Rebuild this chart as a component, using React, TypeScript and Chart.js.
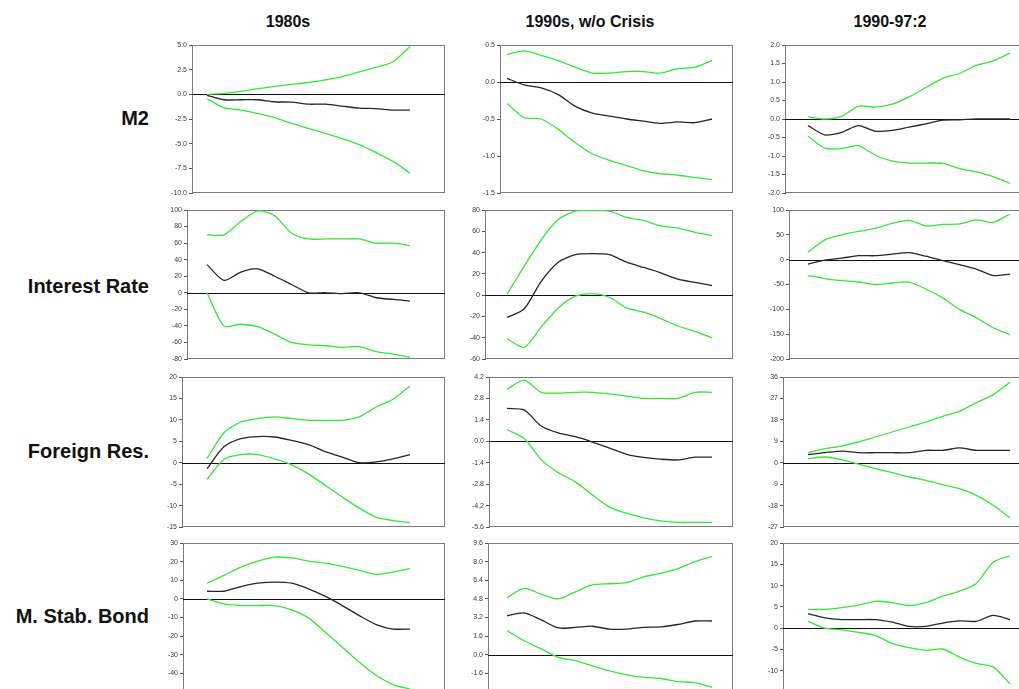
import React, { useEffect, useRef } from "react";
import { Chart, registerables } from "chart.js";
Chart.register(...registerables);

// ---------- labels ----------
const columnTitles = ["1980s", "1990s, w/o Crisis", "1990-97:2"];
const rowLabels = ["M2", "Interest Rate", "Foreign Res.", "M. Stab. Bond"];
const periods = [0, 1, 2, 3, 4, 5, 6, 7, 8, 9, 10, 11, 12];

// ---------- M2 ----------
const m2_80s_upper = [0.0, 0.1, 0.3, 0.57, 0.8, 1.0, 1.2, 1.47, 1.8, 2.28, 2.75, 3.3, 4.85];
const m2_80s_irf = [-0.1, -0.55, -0.55, -0.55, -0.75, -0.8, -1.0, -1.0, -1.2, -1.4, -1.45, -1.6, -1.6];
const m2_80s_lower = [-0.45, -1.35, -1.6, -1.95, -2.35, -2.95, -3.45, -3.95, -4.5, -5.1, -5.9, -6.8, -8.0];
const m2_80s_ticks = ["5.0", "2.5", "0.0", "-2.5", "-5.0", "-7.5", "-10.0"];

const m2_90s_upper = [0.37, 0.42, 0.36, 0.29, 0.2, 0.12, 0.12, 0.14, 0.14, 0.12, 0.18, 0.2, 0.29];
const m2_90s_irf = [0.05, -0.04, -0.08, -0.17, -0.33, -0.42, -0.46, -0.5, -0.53, -0.56, -0.54, -0.55, -0.5];
const m2_90s_lower = [-0.29, -0.48, -0.5, -0.64, -0.82, -0.97, -1.06, -1.13, -1.2, -1.24, -1.26, -1.29, -1.32];
const m2_90s_ticks = ["0.5", "0.0", "-0.5", "-1.0", "-1.5"];

const m2_97_upper = [0.06, 0.0, 0.07, 0.35, 0.32, 0.4, 0.6, 0.85, 1.1, 1.23, 1.45, 1.57, 1.78];
const m2_97_irf = [-0.18, -0.43, -0.36, -0.18, -0.33, -0.31, -0.22, -0.13, -0.03, -0.02, 0.0, 0.0, 0.0];
const m2_97_lower = [-0.46, -0.79, -0.8, -0.72, -0.98, -1.14, -1.19, -1.19, -1.2, -1.34, -1.43, -1.56, -1.74];
const m2_97_ticks = ["2.0", "1.5", "1.0", "0.5", "0.0", "-0.5", "-1.0", "-1.5", "-2.0"];

// ---------- Interest Rate ----------
const ir_80s_upper = [70, 70, 86, 99, 93, 72, 65, 65, 65, 65, 60, 60, 57];
const ir_80s_irf = [34, 15, 25, 29, 20, 10, 0, 0, -1, 0, -6, -8, -10];
const ir_80s_lower = [0, -40, -38, -41, -50, -60, -63, -64, -66, -65, -71, -74, -78];
const ir_80s_ticks = ["100", "80", "60", "40", "20", "0", "-20", "-40", "-60", "-80"];

const ir_90s_upper = [1, 27, 52, 71, 79, 80, 79, 73, 70, 65, 63, 59, 56];
const ir_90s_irf = [-21, -13, 13, 31, 38, 39, 38, 31, 26, 21, 15, 12, 9];
const ir_90s_lower = [-41, -49, -30, -12, -1, 1.5, -2, -12, -16, -22, -29, -34, -40];
const ir_90s_ticks = ["80", "60", "40", "20", "0", "-20", "-40", "-60"];

const ir_97_upper = [15, 40, 50, 57, 63, 73, 79, 68, 71, 72, 80, 75, 92];
const ir_97_irf = [-9, -1, 3, 8, 8, 11, 14, 7, -2, -10, -19, -32, -29];
const ir_97_lower = [-32, -38, -42, -45, -50, -47, -45, -59, -77, -100, -117, -137, -151];
const ir_97_ticks = ["100", "50", "0", "-50", "-100", "-150", "-200"];

// ---------- Foreign Reserves ----------
const fr_80s_upper = [1, 7, 9.5, 10.3, 10.7, 10.3, 9.9, 9.9, 9.9, 10.7, 13, 14.8, 17.9];
const fr_80s_irf = [-1.4, 3.7, 5.6, 6.1, 6, 5.2, 4.2, 2.6, 1.3, 0, 0.2, 0.9, 1.9];
const fr_80s_lower = [-3.9, 0.8, 1.9, 1.9, 0.9, -0.5, -2.6, -5.3, -8, -10.6, -12.7, -13.5, -14];
const fr_80s_ticks = ["20", "15", "10", "5", "0", "-5", "-10", "-15"];

const fr_90s_upper = [3.4, 4.0, 3.2, 3.15, 3.2, 3.2, 3.1, 2.95, 2.8, 2.8, 2.8, 3.2, 3.2];
const fr_90s_irf = [2.15, 2.05, 1.0, 0.55, 0.3, -0.05, -0.45, -0.85, -1.05, -1.17, -1.22, -1.04, -1.04];
const fr_90s_lower = [0.77, 0.2, -1.2, -2.05, -2.65, -3.5, -4.3, -4.7, -5.0, -5.2, -5.3, -5.3, -5.3];
const fr_90s_ticks = ["4.2", "2.8", "1.4", "0.0", "-1.4", "-2.8", "-4.2", "-5.6"];

const fr_97_upper = [4.2, 5.9, 7, 8.7, 10.8, 12.9, 15, 17.1, 19.5, 21.6, 25.2, 28.6, 33.9];
const fr_97_irf = [3.4, 4.2, 4.9, 4.2, 4.2, 4.2, 4.2, 5.2, 5.2, 6.2, 5.2, 5.2, 5.2];
const fr_97_lower = [1.7, 2.4, 1.3, -0.6, -2.5, -4.2, -6, -7.4, -9.2, -10.9, -13.7, -17.9, -23.2];
const fr_97_ticks = ["36", "27", "18", "9", "0", "-9", "-18", "-27"];

// ---------- Monetary Stabilization Bond ----------
const msb_80s_upper = [8.4, 12.6, 17, 20.3, 22.4, 22, 20.3, 19.2, 17.4, 15.3, 13.1, 14.4, 16.2];
const msb_80s_irf = [4.1, 4.1, 6.6, 8.4, 9.0, 8.4, 5.4, 1.3, -3.6, -9, -13.8, -16.2, -16.2];
const msb_80s_lower = [0, -2.7, -3.6, -3.6, -3.6, -5.9, -10.2, -18, -26, -34, -41, -46, -48.5];
const msb_80s_ticks = ["30", "20", "10", "0", "-10", "-20", "-30", "-40", "-50"];

const msb_90s_upper = [4.9, 5.7, 5.2, 4.8, 5.4, 6.0, 6.1, 6.2, 6.7, 7.0, 7.4, 8.0, 8.45];
const msb_90s_irf = [3.35, 3.6, 3.0, 2.3, 2.35, 2.45, 2.2, 2.2, 2.35, 2.4, 2.6, 2.9, 2.9];
const msb_90s_lower = [2.07, 1.2, 0.5, -0.23, -0.5, -0.95, -1.38, -1.72, -1.95, -2.04, -2.3, -2.4, -2.8];
const msb_90s_ticks = ["9.6", "8.0", "6.4", "4.8", "3.2", "1.6", "0.0", "-1.6", "-3.2"];

const msb_97_upper = [4.4, 4.4, 4.8, 5.4, 6.3, 6.0, 5.3, 6.0, 7.5, 8.7, 10.5, 15.5, 17];
const msb_97_irf = [3.4, 2.4, 2.0, 2.0, 2.0, 1.4, 0.4, 0.4, 1.2, 1.7, 1.6, 3.0, 2.0];
const msb_97_lower = [1.6, 0, -0.4, -1, -1.7, -3.6, -4.6, -5.2, -4.9, -6.8, -8.3, -9.1, -13.1];
const msb_97_ticks = ["20", "15", "10", "5", "0", "-5", "-10", "-15"];

// ---------- layout ----------
const colGeom = [
  { dataStart: 207, dataEnd: 410, right: 445, titleX: 288 },
  { dataStart: 507, dataEnd: 712, right: 733, titleX: 590 },
  { dataStart: 808, dataEnd: 1010, right: 1035, titleX: 890 },
];
const rowGeom = [
  { top: 45, height: 148, labelY: 118, lefts: [192, 500, 785] },
  { top: 210, height: 149, labelY: 286, lefts: [187, 485, 789] },
  { top: 377, height: 150, labelY: 451, lefts: [182, 489, 783] },
  { top: 543, height: 149, labelY: 616, lefts: [183, 488, 783] },
];

const panels = [
  [
    [m2_80s_upper, m2_80s_irf, m2_80s_lower, m2_80s_ticks],
    [m2_90s_upper, m2_90s_irf, m2_90s_lower, m2_90s_ticks],
    [m2_97_upper, m2_97_irf, m2_97_lower, m2_97_ticks],
  ],
  [
    [ir_80s_upper, ir_80s_irf, ir_80s_lower, ir_80s_ticks],
    [ir_90s_upper, ir_90s_irf, ir_90s_lower, ir_90s_ticks],
    [ir_97_upper, ir_97_irf, ir_97_lower, ir_97_ticks],
  ],
  [
    [fr_80s_upper, fr_80s_irf, fr_80s_lower, fr_80s_ticks],
    [fr_90s_upper, fr_90s_irf, fr_90s_lower, fr_90s_ticks],
    [fr_97_upper, fr_97_irf, fr_97_lower, fr_97_ticks],
  ],
  [
    [msb_80s_upper, msb_80s_irf, msb_80s_lower, msb_80s_ticks],
    [msb_90s_upper, msb_90s_irf, msb_90s_lower, msb_90s_ticks],
    [msb_97_upper, msb_97_irf, msb_97_lower, msb_97_ticks],
  ],
];

const AXW = 40;
const PAD = 8;
const GREEN = "#35e835";
const DARK = "#262626";

const framePlugin = {
  id: "frame",
  beforeDatasetsDraw(chart: any) {
    const { ctx, chartArea, scales } = chart;
    const { left, right, top, bottom } = chartArea;
    ctx.save();
    ctx.strokeStyle = "#7a7a7a";
    ctx.lineWidth = 1;
    ctx.strokeRect(left + 0.5, top + 0.5, right - left - 1, bottom - top - 1);
    const z = Math.round(scales.y.getPixelForValue(0)) + 0.5;
    ctx.strokeStyle = "#111";
    ctx.beginPath();
    ctx.moveTo(left, z);
    ctx.lineTo(right, z);
    ctx.stroke();
    ctx.restore();
  },
};

function Panel(props: any) {
  const { upper, irf, lower, ticks, left, top, width, height, dataStart, dataEnd } = props;
  const ref = useRef<HTMLCanvasElement | null>(null);
  const cw = width + AXW;
  const ch = height + PAD * 2;
  useEffect(() => {
    if (!ref.current) return;
    const step = (dataEnd - dataStart) / (periods.length - 1);
    const xmin = (left - dataStart) / step;
    const xmax = (left + width - dataStart) / step;
    const tickVals = ticks.map((t: string) => parseFloat(t));
    const ymax = Math.max(...tickVals);
    const ymin = Math.min(...tickVals);
    const mk = (arr: number[], color: string) => ({
      data: periods.map((p, i) => ({ x: p, y: arr[i] })),
      borderColor: color,
      borderWidth: 1.3,
      pointRadius: 0,
      tension: 0.25,
      fill: false,
    });
    const chart = new Chart(ref.current, {
      type: "line",
      data: { datasets: [mk(upper, GREEN), mk(lower, GREEN), mk(irf, DARK)] },
      options: {
        animation: false,
        responsive: false,
        devicePixelRatio: 1,
        layout: { padding: { top: PAD, bottom: PAD, left: 0, right: 0 } },
        plugins: { legend: { display: false }, tooltip: { enabled: false } },
        scales: {
          x: { type: "linear", min: xmin, max: xmax, display: false },
          y: {
            min: ymin,
            max: ymax,
            afterFit: (s: any) => {
              s.width = AXW;
            },
            afterBuildTicks: (s: any) => {
              s.ticks = tickVals.map((v: number) => ({ value: v }));
            },
            ticks: {
              autoSkip: false,
              padding: 2,
              color: "#3a3a3a",
              font: { family: "'Liberation Sans', Arial, sans-serif", size: 7 },
              callback: (_v: any, i: number) => ticks[i],
            },
            grid: { drawOnChartArea: false, drawTicks: true, tickLength: 3, color: "#555" },
            border: { color: "#555", width: 1 },
          },
        },
      },
      plugins: [framePlugin],
    } as any);
    return () => chart.destroy();
  }, []);
  return (
    <canvas
      ref={ref}
      width={cw}
      height={ch}
      style={{ position: "absolute", left: left - AXW, top: top - PAD, width: cw, height: ch }}
    />
  );
}

export default function App() {
  const textStyle = {
    position: "absolute" as const,
    fontFamily: "'Liberation Sans', Arial, sans-serif",
    fontWeight: 700,
    color: "#111",
    whiteSpace: "nowrap" as const,
  };
  return (
    <div
      style={{
        position: "absolute",
        left: 0,
        top: 0,
        width: 1019,
        height: 689,
        overflow: "hidden",
        background: "#fff",
      }}
    >
      {columnTitles.map((t, c) => (
        <div
          key={t}
          style={{
            ...textStyle,
            left: colGeom[c].titleX - 150,
            width: 300,
            top: 12,
            textAlign: "center",
            fontSize: 16,
            lineHeight: "20px",
          }}
        >
          {t}
        </div>
      ))}
      {rowLabels.map((t, r) => (
        <div
          key={t}
          style={{
            ...textStyle,
            left: 0,
            width: 149,
            top: rowGeom[r].labelY - 12,
            textAlign: "right",
            fontSize: 20,
            lineHeight: "24px",
          }}
        >
          {t}
        </div>
      ))}
      {panels.map((row, r) =>
        row.map((p, c) => {
          const left = rowGeom[r].lefts[c];
          return (
            <Panel
              key={`${r}-${c}`}
              upper={p[0]}
              irf={p[1]}
              lower={p[2]}
              ticks={p[3]}
              left={left}
              top={rowGeom[r].top}
              width={colGeom[c].right - left}
              height={rowGeom[r].height}
              dataStart={colGeom[c].dataStart}
              dataEnd={colGeom[c].dataEnd}
            />
          );
        })
      )}
    </div>
  );
}
